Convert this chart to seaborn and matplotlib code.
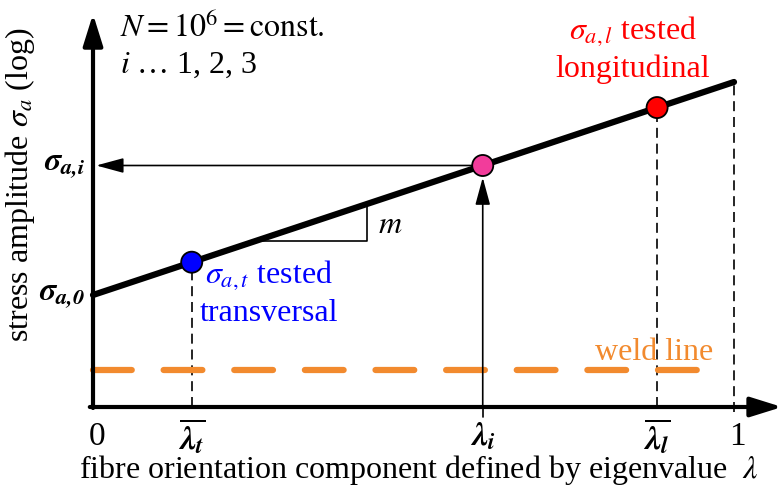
import matplotlib
matplotlib.use("Agg")
import matplotlib.pyplot as plt
import seaborn as sns
import pandas as pd

sns.set_theme(style="white")
plt.rcParams["font.family"] = ["Liberation Serif", "DejaVu Serif"]
plt.rcParams["mathtext.fontset"] = "stix"
plt.rcParams["text.color"] = "black"

# S-N relation at constant N: log stress amplitude vs. fibre orientation eigenvalue
lam_end = [0.0, 1.0]
sigma_end = [1.12, 3.25]          # sigma_a,0 at lambda=0 and value at lambda=1
weld_level = 0.37                  # weld line stress level
weld_extent = [0.0, 0.975]

point_names = ["transversal", "intermediate", "longitudinal"]
point_lam = [0.154, 0.608, 0.880]
point_colors = ["#0000FF", "#F23C9B", "#FF0000"]

tick_pos = [0.0, 0.154, 0.608, 0.880, 1.0]
tick_labels = ["0", r"$\overline{\mathbfit{\lambda_t}}$", r"$\mathbfit{\lambda_i}$",
               r"$\overline{\mathbfit{\lambda_l}}$", "1"]

slope = (sigma_end[1] - sigma_end[0]) / (lam_end[1] - lam_end[0])
def sigma_of(l):
    return sigma_end[0] + slope * l

point_sigma = [sigma_of(l) for l in point_lam]
df_line = pd.DataFrame({"lam": lam_end, "sigma": sigma_end})
df_pts = pd.DataFrame({"lam": point_lam, "sigma": point_sigma, "name": point_names})

fig = plt.figure(figsize=(7.84, 4.91), dpi=100)
ax = fig.add_axes([0, 0, 1, 1])
ax.set_xlim(-0.1451, 1.078)
ax.set_ylim(-0.84, 4.07)
ax.axis("off")

FS = 23
ORANGE = "#F28A2E"

# axes with arrow heads
ax.annotate("", xy=(0, 3.93), xytext=(0, -0.01),
            arrowprops=dict(arrowstyle="-|>,head_length=1.6,head_width=0.5", lw=3, color="black",
                            shrinkA=0, shrinkB=0))
ax.annotate("", xy=(1.075, 0), xytext=(-0.005, 0),
            arrowprops=dict(arrowstyle="-|>,head_length=1.6,head_width=0.5", lw=3, color="black",
                            shrinkA=0, shrinkB=0))

# weld line
ax.plot(weld_extent, [weld_level, weld_level], color=ORANGE, lw=4.5, ls=(0, (6.2, 5.1)),
        solid_capstyle="round", dash_capstyle="round", zorder=2)
ax.text(0.875, weld_level + 0.17, "weld line", color=ORANGE, fontsize=FS, ha="center", va="center")

# dashed projections
for l in [point_lam[0], point_lam[2]]:
    ax.plot([l, l], [0, sigma_of(l)], color="black", lw=1.2, ls=(0, (6, 3.5)), zorder=1)
ax.plot([1, 1], [-0.05, sigma_end[1]], color="black", lw=1.2, ls=(0, (6, 3.5)), zorder=1)

# slope triangle
l1, l2 = 0.255, 0.427
ax.plot([l1, l2, l2], [sigma_of(l1), sigma_of(l1), sigma_of(l2)], color="black", lw=1.2, zorder=2)
ax.text(l2 + 0.018, sigma_of(l1) + 0.15, r"$m$", fontsize=FS, ha="left", va="center")

# reading arrows through the intermediate point
li, si = point_lam[1], point_sigma[1]
ax.plot([li, li], [-0.1, 0], color="black", lw=1.2)
ax.annotate("", xy=(li, si - 0.12), xytext=(li, 0),
            arrowprops=dict(arrowstyle="-|>,head_length=1.4,head_width=0.38", lw=1.2, color="black",
                            shrinkA=0, shrinkB=0))
ax.annotate("", xy=(0.005, si), xytext=(li - 0.015, si),
            arrowprops=dict(arrowstyle="-|>,head_length=1.4,head_width=0.38", lw=1.2, color="black",
                            shrinkA=0, shrinkB=0))

# main line and tested points
sns.lineplot(data=df_line, x="lam", y="sigma", ax=ax, color="black", lw=4.5, zorder=3, legend=False)
sns.scatterplot(data=df_pts, x="lam", y="sigma", hue="name", palette=point_colors, s=230,
                edgecolor="black", linewidth=1.3, ax=ax, zorder=4, legend=False)
ax.set_xlabel("")
ax.set_ylabel("")

# point annotations
ax.text(0.175, point_sigma[0] - 0.13, r"$\sigma_{a,t}$ tested", color="#0000FF", fontsize=FS,
        ha="left", va="center")
ax.text(0.275, point_sigma[0] - 0.51, "transversal", color="#0000FF", fontsize=FS, ha="center", va="center")
ax.text(0.842, 3.76, r"$\sigma_{a,l}$ tested", color="#FF0000", fontsize=FS, ha="center", va="center")
ax.text(0.842, 3.38, "longitudinal", color="#FF0000", fontsize=FS, ha="center", va="center")

# y-axis value labels
ax.text(-0.012, si, r"$\mathbfit{\sigma_{a{,}i}}$", fontsize=FS, ha="right", va="center")
ax.text(-0.012, sigma_end[0], r"$\mathbfit{\sigma_{a{,}0}}$", fontsize=FS, ha="right", va="center")

# info block
ax.text(0.042, 3.79, r"$N = 10^6 = \mathrm{const.}$", fontsize=FS, ha="left", va="center")
ax.text(0.042, 3.42, r"$i$ … 1, 2, 3", fontsize=FS, ha="left", va="center")

# x tick labels
for p, t in zip(tick_pos, tick_labels):
    ax.text(p + (0.006 if t in ("0", "1") else 0), -0.3, t, fontsize=FS + 1, ha="center", va="center")

# axis titles
ax.text(-0.022, -0.63, r"fibre orientation component defined by eigenvalue  $\lambda$",
        fontsize=FS, ha="left", va="center")
ax.text(-0.114, 2.22, r"stress amplitude $\sigma_a$ (log)", fontsize=FS, rotation=90,
        ha="center", va="center")

fig.savefig("out.png", dpi=100)
